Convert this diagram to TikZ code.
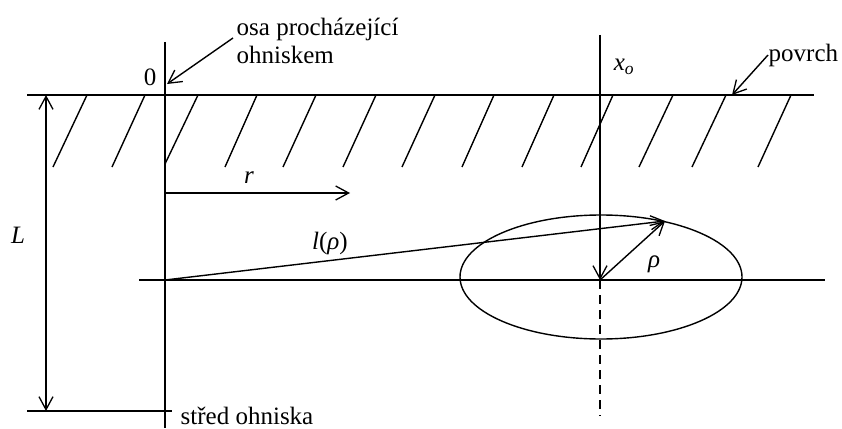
\documentclass[tikz,border=0pt]{standalone}
\usepackage{fontspec}
\setmainfont{Liberation Serif}
\usetikzlibrary{arrows.meta}
\begin{document}
\begin{tikzpicture}[x=1pt,y=-1pt, line width=1.4pt,
  arr/.style={-{Straight Barb[length=13pt,width=14pt,line width=1.3pt]}},
  darr/.style={{Straight Barb[length=13pt,width=14pt,line width=1.3pt]}-{Straight Barb[length=13pt,width=14pt,line width=1.3pt]}},
  lbl/.style={font=\fontsize{25}{28}\selectfont, inner sep=0pt}]
\useasboundingbox (0,0) rectangle (842,428);
% surface
\coordinate (sL) at (27,95); \coordinate (sR) at (814,95);
\draw (sL) -- (sR);
% hatches
\foreach \t/\b [count=\i] in {87/53,145/112,257/225,316/283,376/343,435/402,494/462,554/522,613/581,673/639,726/692,791/758}{
  \coordinate (ht\i) at (\t,95); \coordinate (hb\i) at (\b,167);
  \draw (ht\i) -- (hb\i);
}
\coordinate (hx1) at (198,95); \coordinate (hx2) at (165,164);
\draw (hx1) -- (hx2);
% left axis
\coordinate (a0t) at (165,42); \coordinate (a0b) at (165,428);
\draw (a0t) -- (a0b);
% L dimension
\coordinate (Lt) at (46,95); \coordinate (Lb) at (46,411);
\draw[darr] (Lt) -- (Lb);
\coordinate (bL) at (27,411); \coordinate (bR) at (172,411);
\draw (bL) -- (bR);
% middle line
\coordinate (mL) at (139,280); \coordinate (mR) at (825,280);
\draw (mL) -- (mR);
% right axis
\coordinate (xt) at (600,35); \coordinate (c) at (600,280); \coordinate (xb) at (600,416);
\draw[arr] (xt) -- (c);
\draw[dashed, dash pattern=on 9pt off 6pt] (c) -- (xb);
% ellipse
\draw (601,277) ellipse [x radius=141, y radius=62];
% arrows
\coordinate (O) at (165,280); \coordinate (P) at (665,221);
\draw[arr] (O) -- (P);
\draw[arr] (c) -- (P);
\coordinate (r0) at (165,193); \coordinate (r1) at (350,193);
\draw[arr] (r0) -- (r1);
% labels
\node[lbl] (zero) at (150,77) {0};
\node[lbl, align=left, anchor=west] (osa) at (236,41) {osa procházející\\ohniskem};
\coordinate (osaA) at (233,38); \coordinate (osaB) at (167,84);
\draw[arr] (osaA) -- (osaB);
\node[lbl] (xo) at (624,67) {\textit{x}\textsubscript{\textit{o}}};
\node[lbl, anchor=west] (povrch) at (768,55) {povrch};
\coordinate (povB) at (732,95);
\draw[arr] (povrch.west) -- (povB);
\node[lbl, anchor=base west] (stred) at (180,424) {střed ohniska};
\node[lbl] (lrho) at (330,243) {\textit{l}(\textit{ρ})};
\node[lbl] (rl) at (249,178) {\textit{r}};
\node[lbl] (rho) at (654,264) {\textit{ρ}};
\node[lbl] (Ll) at (18,235) {\textit{L}};
\end{tikzpicture}
\end{document}
